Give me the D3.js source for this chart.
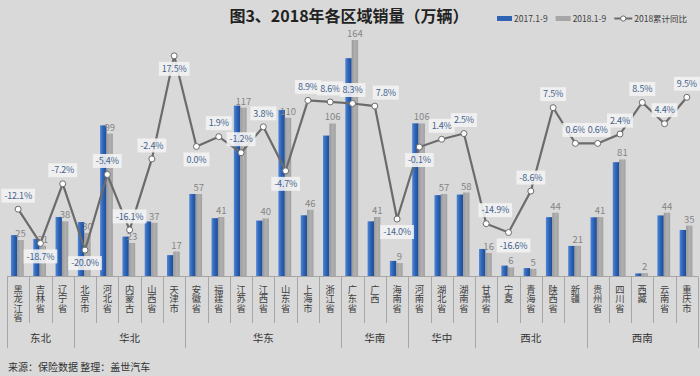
<!DOCTYPE html>
<html><head><meta charset="utf-8">
<script src="https://cdn.jsdelivr.net/npm/d3@7"></script>
<style>
html,body{margin:0;padding:0;background:#d9d9d9;}
svg{display:block;font-family:"Noto Sans CJK SC","Noto Sans",sans-serif;}
.num{font-family:"Liberation Sans Narrow","Noto Sans CJK SC",sans-serif;}
</style></head>
<body><svg id="chart" width="700" height="376"></svg>
<script>
const categories = ["黑龙江省","吉林省","辽宁省","北京市","河北省","内蒙古","山西省","天津市","安徽省","福建省","江苏省","江西省","山东省","上海市","浙江省","广东省","广西","海南省","河南省","湖北省","湖南省","甘肃省","宁夏","青海省","陕西省","新疆","贵州省","四川省","西藏","云南省","重庆市"];
const regionNames = ["东北","华北","华东","华南","华中","西北","西南"];
const regionSizes = [3,5,7,3,3,5,5];
const sales2017 = [28.4,25.8,41,37.5,104.7,27.4,37.9,14.5,57,40.2,118.4,38.5,115.4,42.2,97.6,151.4,38,10.5,106.1,56.2,56.6,18.8,7.2,5.5,40.9,20.9,40.8,79.1,1.8,42.1,32];
const sales2018 = [25,21,38,30,99,23,37,17,57,41,117,40,110,46,106,164,41,9,106,57,58,16,6,5,44,21,41,81,2,44,35];
const growth2018 = [-12.1,-18.7,-7.2,-20.0,-5.4,-16.1,-2.4,17.5,0.0,1.9,-1.2,3.8,-4.7,8.9,8.6,8.3,7.8,-14.0,-0.1,1.4,2.5,-14.9,-16.6,-8.6,7.5,0.6,0.6,2.4,8.5,4.4,9.5];
const seriesNames = ["2017.1-9","2018.1-9","2018累计同比"];
// label placement (a = above marker, b = below marker) and small horizontal nudges
const labelSide = ["a","b","a","b","a","a","a","b","b","a","a","a","b","a","a","a","a","b","b","a","a","a","b","a","a","a","a","a","a","a","a"];
const labelNudge = [0,0,0,0,0,0,0,0,0,0,0,0,0,0,0,0,11,0,0,0,0,9,5,0,0,0,0,0,0,0,0];

const svg = d3.select("#chart");
const W = 700, H = 376;
svg.append("rect").attr("width",W).attr("height",H).attr("fill","#d9d9d9");

const defs = svg.append("defs");
const gb = defs.append("linearGradient").attr("id","gBlue").attr("x1","0").attr("x2","1").attr("y1","0").attr("y2","0");
gb.append("stop").attr("offset","0").attr("stop-color","#4f86d6");
gb.append("stop").attr("offset","0.5").attr("stop-color","#2d62b5");
gb.append("stop").attr("offset","1").attr("stop-color","#1f4c95");
const gg = defs.append("linearGradient").attr("id","gGray").attr("x1","0").attr("x2","1").attr("y1","0").attr("y2","0");
gg.append("stop").attr("offset","0").attr("stop-color","#9a9a9a");
gg.append("stop").attr("offset","0.5").attr("stop-color","#b0b0b0");
gg.append("stop").attr("offset","1").attr("stop-color","#a2a2a2");

const x = d3.scaleBand().domain(categories).range([7,698]).paddingInner(0).paddingOuter(0);
const yBar = d3.scaleLinear().domain([0,180]).range([276,17]);
const yPct = d3.scaleLinear().domain([-25,25]).range([276,17]);
const bw = 6.4;

// bars
const g = svg.append("g");
g.selectAll("rect.b17").data(categories).enter().append("rect")
  .attr("x",(d)=>x(d)+x.bandwidth()/2-bw-0.8)
  .attr("y",(d,i)=>yBar(sales2017[i]))
  .attr("width",bw).attr("height",(d,i)=>yBar(0)-yBar(sales2017[i]))
  .attr("fill","url(#gBlue)");
g.selectAll("rect.b18").data(categories).enter().append("rect")
  .attr("x",(d)=>x(d)+x.bandwidth()/2-0.8)
  .attr("y",(d,i)=>yBar(sales2018[i]))
  .attr("width",bw).attr("height",(d,i)=>yBar(0)-yBar(sales2018[i]))
  .attr("fill","url(#gGray)");
g.selectAll("text.v").data(categories).enter().append("text").attr("class","num")
  .attr("x",(d)=>x(d)+x.bandwidth()/2-0.8+bw/2)
  .attr("y",(d,i)=>yBar(sales2018[i])-3)
  .attr("text-anchor","middle").attr("font-size",9.5).attr("fill","#858585")
  .text((d,i)=>sales2018[i]);

// axis line
svg.append("line").attr("x1",7).attr("x2",698).attr("y1",276.5).attr("y2",276.5).attr("stroke","#a6a6a6").attr("stroke-width",1);

// category ticks
const boundaries = [0];
regionSizes.forEach(s=>boundaries.push(boundaries[boundaries.length-1]+s));
const step = x.step();
for(let i=0;i<=categories.length;i++){
  const xx = Math.round(7+i*step)+0.5;
  const isB = boundaries.includes(i);
  svg.append("line").attr("x1",xx).attr("x2",xx).attr("y1",276.5).attr("y2",isB?348:323)
    .attr("stroke","#a6a6a6").attr("stroke-width",1);
}
// category labels vertical
categories.forEach((c,i)=>{
  const cx = x(c)+x.bandwidth()/2;
  svg.append("text").attr("x",cx).attr("y",285)
    .style("writing-mode","vertical-rl").style("text-orientation","upright")
    .attr("font-size",9.3).attr("fill","#404040").text(c);
});
// region labels
regionNames.forEach((r,i)=>{
  const x0 = 7+boundaries[i]*step, x1 = 7+boundaries[i+1]*step;
  svg.append("text").attr("x",(x0+x1)/2).attr("y",342).attr("text-anchor","middle")
    .attr("font-size",10.5).attr("fill","#333").text(r);
});

// line
const line = d3.line().x((d,i)=>x(categories[i])+x.bandwidth()/2).y(d=>yPct(d));
svg.append("path").datum(growth2018).attr("d",line).attr("fill","none").attr("stroke","#6b6b6b").attr("stroke-width",2.2);
svg.selectAll("circle.m").data(growth2018).enter().append("circle")
  .attr("cx",(d,i)=>x(categories[i])+x.bandwidth()/2).attr("cy",d=>yPct(d)).attr("r",3)
  .attr("fill","#fff").attr("stroke","#6b6b6b").attr("stroke-width",1);

// pct labels
growth2018.forEach((v,i)=>{
  const cx = x(categories[i])+x.bandwidth()/2 + labelNudge[i];
  const cy = yPct(v) + (labelSide[i]==="a" ? -13.5 : 13);
  const txt = v.toFixed(1)+"%";
  const gg2 = svg.append("g");
  const t = gg2.append("text").attr("class","num").attr("x",cx).attr("y",cy+3.2).attr("text-anchor","middle")
    .attr("font-size",9).attr("letter-spacing",-0.2).attr("fill","#44638f").text(txt);
  const w = t.node().getComputedTextLength()+6;
  gg2.insert("rect","text").attr("x",cx-w/2).attr("y",cy-7).attr("width",w).attr("height",14)
    .attr("fill","#f2f2f2").attr("opacity",0.9);
});

// title
svg.append("text").attr("x",349).attr("y",21.5).attr("text-anchor","middle")
  .attr("font-size",16).attr("font-weight","bold").attr("fill","#222").text("图3、2018年各区域销量（万辆）");

// legend, laid out left to right
const lg = svg.append("g").attr("font-size",8.5).attr("fill","#404040");
const items = [
  {name:seriesNames[0], type:"bar", color:"#2d62b5"},
  {name:seriesNames[1], type:"bar", color:"#a6a6a6"},
  {name:seriesNames[2], type:"line", color:"#6b6b6b"}
];
let lx = 497;
items.forEach(it=>{
  if(it.type==="bar"){
    lg.append("rect").attr("x",lx).attr("y",16).attr("width",15).attr("height",5).attr("fill",it.color);
  } else {
    lg.append("line").attr("x1",lx).attr("x2",lx+18).attr("y1",18.5).attr("y2",18.5).attr("stroke",it.color).attr("stroke-width",2);
    lg.append("circle").attr("cx",lx+9).attr("cy",18.5).attr("r",2.6).attr("fill","#fff").attr("stroke",it.color);
  }
  const tx = lx + (it.type==="bar"?17:20);
  const t = lg.append("text").attr("class","num").attr("x",tx).attr("y",22).text(it.name);
  lx = tx + t.node().getComputedTextLength() + 8;
});

// footer
svg.append("text").attr("x",8).attr("y",371).attr("font-size",10).attr("fill","#333").text("来源：保险数据 整理：盖世汽车");
</script></body></html>
